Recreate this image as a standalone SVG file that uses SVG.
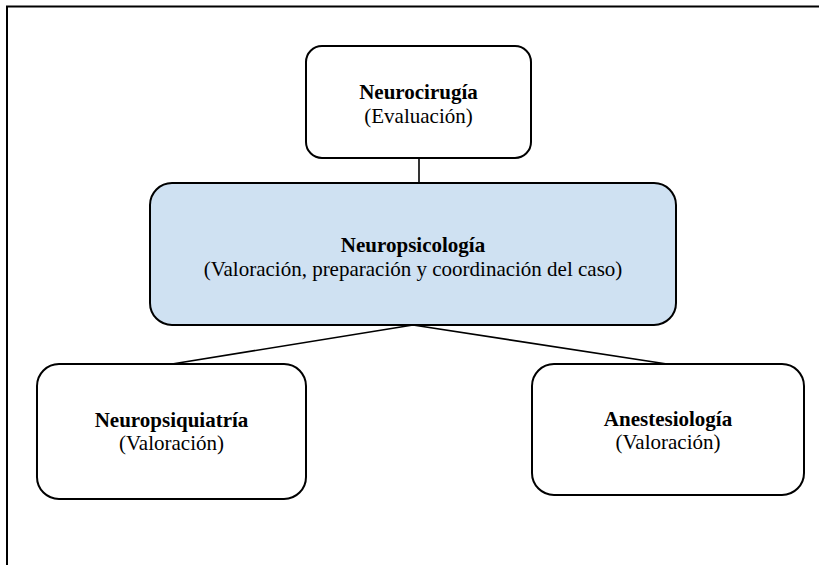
<svg xmlns="http://www.w3.org/2000/svg" width="819" height="565" viewBox="0 0 819 565">
<style>
.box{fill:#ffffff;stroke:#000000;stroke-width:2}
.hl{fill:#cfe1f2}
.conn{stroke:#000000;stroke-width:1.6;fill:none}
.frame{stroke:#000000;stroke-width:2;fill:none}
.t{font-size:21px;fill:#000000;text-anchor:middle}
.b{font-weight:bold}
</style>
<rect width="819" height="565" fill="#ffffff"/>
<path class="frame" d="M7,565 V6.5 H819"/>
<g id="connectors">
<line class="conn" x1="419" y1="158" x2="419" y2="183"/>
<line class="conn" x1="413" y1="325" x2="172" y2="364"/>
<line class="conn" x1="413" y1="325" x2="667" y2="364"/>
</g>
<g font-family="'Liberation Serif', 'Times New Roman', Tinos, 'DejaVu Serif', serif">
<g id="neurocirugia">
<rect class="box" x="306" y="46" width="225" height="112" rx="16"/>
<text class="t b" x="418.5" y="99">Neurocirugía</text>
<text class="t" x="418.5" y="123">(Evaluación)</text>
</g>
<g id="neuropsicologia">
<rect class="box hl" x="150" y="183" width="526" height="142" rx="22"/>
<text class="t b" x="413" y="252">Neuropsicología</text>
<text class="t" x="413" y="276">(Valoración, preparación y coordinación del caso)</text>
</g>
<g id="neuropsiquiatria">
<rect class="box" x="37" y="364" width="269" height="135" rx="22"/>
<text class="t b" x="171.5" y="427">Neuropsiquiatría</text>
<text class="t" x="171.5" y="450">(Valoración)</text>
</g>
<g id="anestesiologia">
<rect class="box" x="532" y="364" width="272" height="131" rx="22"/>
<text class="t b" x="668" y="426">Anestesiología</text>
<text class="t" x="668" y="449">(Valoración)</text>
</g>
</g>
</svg>
